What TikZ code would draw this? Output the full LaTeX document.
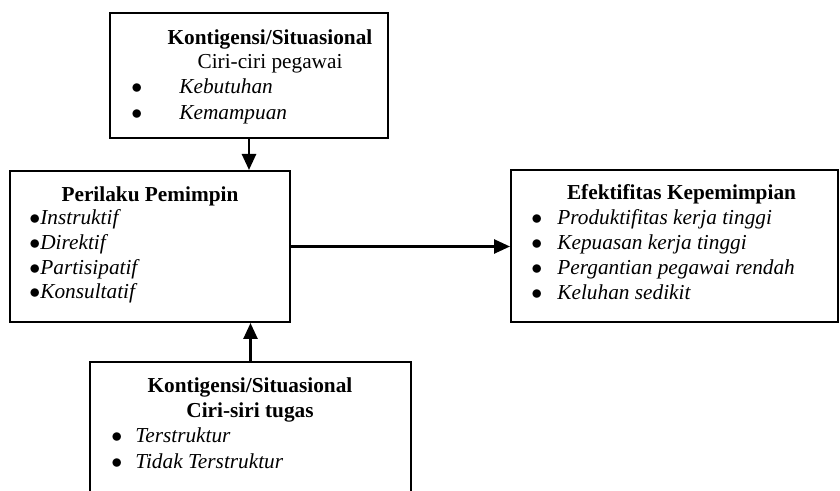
\documentclass[tikz,border=0pt]{standalone}
\usepackage{fontspec}
\setmainfont{Liberation Serif}
\usepackage{tikz}
\usetikzlibrary{arrows.meta, positioning}
\newcommand{\diagsize}{\fontsize{10.65pt}{12.5pt}\selectfont}
\newcommand{\dotmark}{$\bullet$}
\tikzset{
  framebox/.style={
    rectangle, draw=black, line width=1pt, inner sep=0pt
  },
  headtext/.style={anchor=base, inner sep=0pt, font=\diagsize\bfseries},
  subtext/.style={anchor=base, inner sep=0pt, font=\diagsize},
  dottext/.style={anchor=base west, inner sep=0pt, font=\diagsize},
  itemtext/.style={anchor=base west, inner sep=0pt, font=\diagsize\itshape},
  arrow/.style={-{Triangle[length=8pt, width=7pt]}, line width=1.3pt, black}
}

\begin{document}
\begin{tikzpicture}[x=0.5pt, y=-0.5pt]

  \clip (0,0) rectangle (840,491);

  \node[framebox, minimum width=139pt, minimum height=62.5pt]   (pegawai)  at (249,75.5)  {};
  \node[framebox, minimum width=140pt, minimum height=75.5pt]   (perilaku) at (150,246.5) {};
  \node[framebox, minimum width=163.5pt, minimum height=76pt]   (efektif)  at (674.5,246) {};
  \node[framebox, minimum width=160.5pt, minimum height=79pt]   (tugas)    at (250.5,441) {};

  \node[headtext] (pegawaihead) at (270,45) {Kontigensi/Situasional};
  \node[subtext]  (pegawaisub)  at (270,69) {Ciri-ciri pegawai};
  \node[dottext]  (pegawaidot1) at (131,94)  {\dotmark};
  \node[itemtext] (pegawaiitem1) at (179,94)  {Kebutuhan};
  \node[dottext]  (pegawaidot2) at (131,120) {\dotmark};
  \node[itemtext] (pegawaiitem2) at (179,120) {Kemampuan};

  \node[headtext] (perilakuhead)  at (150,202) {Perilaku Pemimpin};
  \node[dottext]  (perilakuitem1) at (29,225) {\dotmark\textit{Instruktif}};
  \node[dottext]  (perilakuitem2) at (29,250) {\dotmark\textit{Direktif}};
  \node[dottext]  (perilakuitem3) at (29,275) {\dotmark\textit{Partisipatif}};
  \node[dottext]  (perilakuitem4) at (29,299) {\dotmark\textit{Konsultatif}};

  \node[headtext] (efektifhead)  at (681.5,200) {Efektifitas Kepemimpian};
  \node[dottext]  (efektifdot1)  at (531,225) {\dotmark};
  \node[itemtext] (efektifitem1) at (557,225) {Produktifitas kerja tinggi};
  \node[dottext]  (efektifdot2)  at (531,250) {\dotmark};
  \node[itemtext] (efektifitem2) at (557,250) {Kepuasan kerja tinggi};
  \node[dottext]  (efektifdot3)  at (531,275) {\dotmark};
  \node[itemtext] (efektifitem3) at (557,275) {Pergantian pegawai rendah};
  \node[dottext]  (efektifdot4)  at (531,300) {\dotmark};
  \node[itemtext] (efektifitem4) at (557,300) {Keluhan sedikit};

  \node[headtext] (tugashead)  at (250,393) {Kontigensi/Situasional};
  \node[headtext] (tugassub)   at (250,417) {Ciri-siri tugas};
  \node[dottext]  (tugasdot1)  at (111,443) {\dotmark};
  \node[itemtext] (tugasitem1) at (135,443) {Terstruktur};
  \node[dottext]  (tugasdot2)  at (111,468) {\dotmark};
  \node[itemtext] (tugasitem2) at (135,468) {Tidak Terstruktur};

  \draw[arrow] (pegawai.south) -- (pegawai.south |- perilaku.north);
  \draw[arrow] (perilaku.east) -- (perilaku.east -| efektif.west);
  \draw[arrow] (tugas.north)   -- (tugas.north |- perilaku.south);

\end{tikzpicture}
\end{document}
